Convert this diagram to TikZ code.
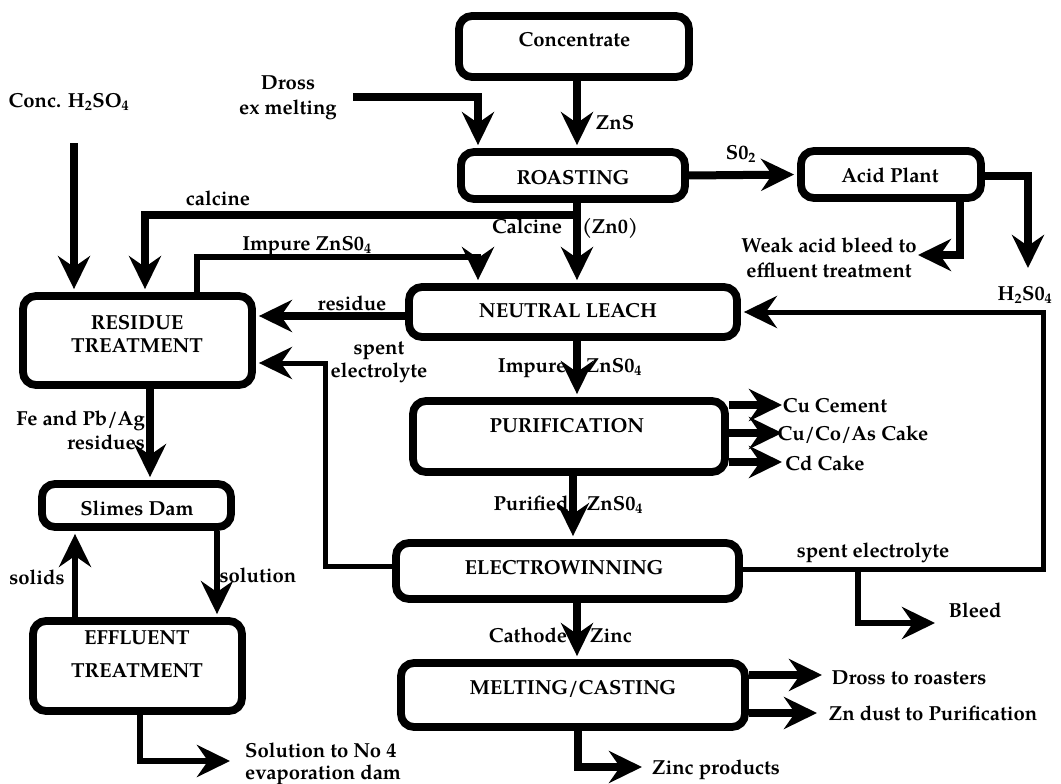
\documentclass[tikz,border=0pt]{standalone}
\usepackage{fontspec}
\setmainfont{TeX Gyre Pagella}
\usetikzlibrary{arrows.meta}
\tikzset{
  box/.style={draw, line width=7.8pt, rounded corners=13pt, inner sep=0pt},
  txt/.style={font=\bfseries\fontsize{20.3}{23}\selectfont, inner sep=0pt, text height=14pt, text depth=0pt},
  tipS/.style={-{Stealth[length=33pt,width=32pt,inset=11pt]}},
  arrA/.style={tipS, line width=8pt},
  arrB/.style={tipS, line width=6.5pt},
  arrC/.style={tipS, line width=5pt},
}
\begin{document}
\begin{tikzpicture}[x=1pt,y=-1pt]
\useasboundingbox (0,0) rectangle (1061,784);
% boxes
\node[box, minimum width=230pt, minimum height=61pt] (conc) at (574,46.5) {};
\node[box, minimum width=224pt, minimum height=47pt] (roast) at (573,175.5) {};
\node[box, minimum width=180pt, minimum height=47pt] (acid) at (891,174.5) {};
\node[box, minimum width=328pt, minimum height=50pt] (leach) at (573,312) {};
\node[box, minimum width=229pt, minimum height=89pt] (resid) at (137.5,340.5) {};
\node[box, minimum width=312pt, minimum height=71pt] (purif) at (569,436.5) {};
\node[box, minimum width=189pt, minimum height=43pt] (slimes) at (136.5,505.5) {};
\node[box, minimum width=343pt, minimum height=56pt] (elec) at (567.5,571) {};
\node[box, minimum width=209pt, minimum height=90pt] (efflu) at (137.5,666) {};
\node[box, minimum width=344pt, minimum height=64pt] (melt) at (573,695) {};
% box texts
\node[txt] (t-conc) at (574.5,40) {Concentrate};
\node[txt] (t-roast) at (573,177) {ROASTING};
\node[txt] (t-acid) at (890,175) {Acid Plant};
\node[txt] (t-leach) at (568,310) {NEUTRAL LEACH};
\node[txt] (t-resid1) at (137,322) {RESIDUE};
\node[txt] (t-resid2) at (137,345) {TREATMENT};
\node[txt] (t-purif) at (567,425) {PURIFICATION};
\node[txt] (t-slimes) at (137,508) {Slimes Dam};
\node[txt] (t-elec) at (564,567) {ELECTROWINNING};
\node[txt] (t-efflu1) at (137,637) {EFFLUENT};
\node[txt] (t-efflu2) at (137,670) {TREATMENT};
\node[txt] (t-melt) at (573,687) {MELTING/CASTING};
% coordinates
\coordinate (mx) at (577,0);
\coordinate (px) at (573,0);
\coordinate (drA) at (353,97);
\coordinate (drB) at (478,97);
\coordinate (waA) at (960,255);
\coordinate (waB) at (918,255);
\coordinate (hA) at (1028,176);
\coordinate (hB) at (1028,268);
\coordinate (caA) at (577,215);
\coordinate (caB) at (145,215);
\coordinate (csA) at (74,143);
\coordinate (imA) at (197,257);
\coordinate (imB) at (478,257);
\coordinate (reA) at (400,316);
\coordinate (slA) at (325,566);
\coordinate (slB) at (325,363);
\coordinate (p1) at (782,405);
\coordinate (p2) at (782,433);
\coordinate (p3) at (782,462);
\coordinate (rA) at (1043,569);
\coordinate (rB) at (1043,312);
\coordinate (bA) at (858,569);
\coordinate (bB) at (858,623);
\coordinate (bC) at (935,623);
\coordinate (m1) at (822,675);
\coordinate (m2) at (817,713);
\coordinate (zA) at (578,767);
\coordinate (zB) at (642,767);
\coordinate (fx) at (150,0);
\coordinate (sx) at (75,0);
\coordinate (sox) at (217,0);
\coordinate (nA) at (140,761);
\coordinate (nB) at (230,761);
% connectors
\draw[arrA, shorten >=3pt] (conc.south -| mx) -- (roast.north -| mx);
\draw[arrA, shorten >=3pt] (drA) -- (drB) -- (roast.north -| drB);
\draw[arrA, shorten >=3pt] (roast.east) -- (acid.west);
\draw[arrA] (acid.south -| waA) -- (waA) -- (waB);
\draw[arrA] (acid.east |- hA) -- (hA) -- (hB);
\draw[arrA, shorten >=3pt] (roast.south -| mx) -- (leach.north -| mx);
\draw[arrA, shorten >=3pt] (caA) -- (caB) -- (resid.north -| caB);
\draw[arrA, shorten >=3pt] (csA) -- (resid.north -| csA);
\draw[arrB, shorten >=3pt] (resid.north -| imA) -- (imA) -- (imB) -- (leach.north -| imB);
\draw[arrA, shorten >=3pt] (leach.west |- reA) -- (resid.east |- reA);
\draw[arrC, shorten >=3pt] (elec.west |- slA) -- (slA) -- (slB) -- (resid.east |- slB);
\draw[arrA, shorten >=3pt] (leach.south -| mx) -- (purif.north -| mx);
\draw[arrA] (purif.east |- p1) -- (p1);
\draw[arrA] (purif.east |- p2) -- (p2);
\draw[arrA] (purif.east |- p3) -- (p3);
\draw[arrA, shorten >=3pt] (purif.south -| px) -- (elec.north -| px);
\draw[arrC, shorten >=3pt] (elec.east |- rA) -- (rA) -- (rB) -- (leach.east |- rB);
\draw[arrB] (bA) -- (bB) -- (bC);
\draw[arrA, shorten >=3pt] (elec.south -| mx) -- (melt.north -| mx);
\draw[arrA] (melt.east |- m1) -- (m1);
\draw[arrA] (melt.east |- m2) -- (m2);
\draw[arrA] (melt.south -| zA) -- (zA) -- (zB);
\draw[arrA, shorten >=3pt] (resid.south -| fx) -- (slimes.north -| fx);
\draw[arrB, shorten >=3pt] (efflu.north -| sx) -- (slimes.south -| sx);
\draw[arrB, shorten >=3pt] (slimes.south -| sox) -- (efflu.north -| sox);
\draw[arrB] (efflu.south -| nA) -- (nA) -- (nB);
% labels
\node[txt] (l-zns) at (615,122) {ZnS};
\node[txt] (l-so2) at (741,152) {S0\textsubscript{2}};
\node[txt] (l-weak1) at (829,245) {Weak acid bleed to};
\node[txt] (l-weak2) at (829,270) {effluent treatment};
\node[txt] (l-dross1) at (288,83) {Dross};
\node[txt] (l-dross2) at (288,107) {ex melting};
\node[txt] (l-conch) at (69,100) {Conc. H\textsubscript{2}SO\textsubscript{4}};
\node[txt] (l-calc1) at (218,198) {calcine};
\node[txt] (l-calc2) at (527,226) {Calcine};
\node[txt] (l-zno) at (610,226) {(Zn0)};
\node[txt] (l-imp1) at (307,243) {Impure ZnS0\textsubscript{4}};
\node[txt] (l-res) at (352,303) {residue};
\node[txt] (l-spent1) at (379,347) {spent};
\node[txt] (l-spent2) at (379,370) {electrolyte};
\node[txt] (l-h2so4) at (1025,293) {H\textsubscript{2}S0\textsubscript{4}};
\node[txt] (l-imp2) at (532,365) {Impure};
\node[txt] (l-imp3) at (614,365) {ZnS0\textsubscript{4}};
\node[txt] (l-cu1) at (835,405) {Cu Cement};
\node[txt] (l-cu2) at (853,433) {Cu/Co/As Cake};
\node[txt] (l-cd) at (825,463) {Cd Cake};
\node[txt] (l-pur1) at (531,503) {Purified};
\node[txt] (l-pur2) at (615,503) {ZnS0\textsubscript{4}};
\node[txt] (l-spent3) at (873,550) {spent electrolyte};
\node[txt] (l-bleed) at (975,610) {Bleed};
\node[txt] (l-cath1) at (528,635) {Cathode};
\node[txt] (l-cath2) at (611,635) {Zinc};
\node[txt] (l-dross3) at (909,677) {Dross to roasters};
\node[txt] (l-zndust) at (933,713) {Zn dust to Purification};
\node[txt] (l-zprod) at (716,767) {Zinc products};
\node[txt, anchor=east] (l-fe1) at (145,418) {Fe and Pb/Ag};
\node[txt, anchor=east] (l-fe2) at (145,442) {residues};
\node[txt] (l-solids) at (37,577) {solids};
\node[txt] (l-soln) at (258,575) {solution};
\node[txt, anchor=west] (l-no4a) at (245,750) {Solution to No 4};
\node[txt, anchor=west] (l-no4b) at (245,772) {evaporation dam};
\end{tikzpicture}
\end{document}
